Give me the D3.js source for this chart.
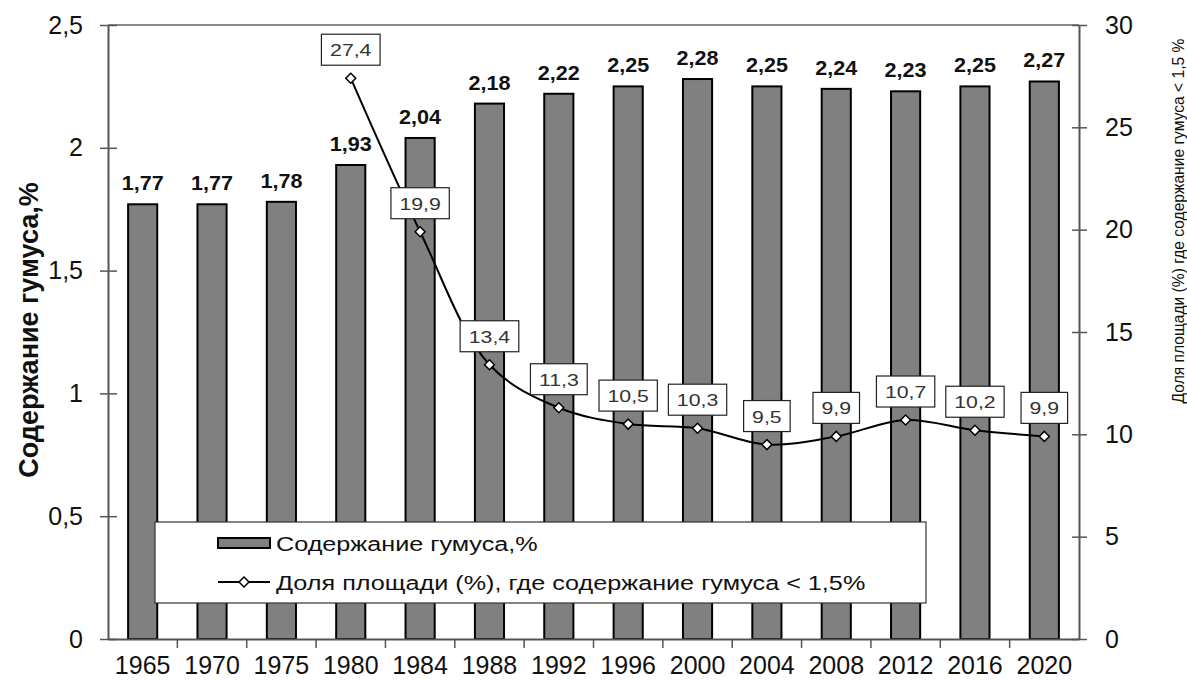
<!DOCTYPE html>
<html>
<head>
<meta charset="utf-8">
<script src="https://cdn.jsdelivr.net/npm/d3@7"></script>
<style>
  body { margin: 0; background: #fff; }
  text { font-family: "Liberation Sans", Arial, sans-serif; }
</style>
</head>
<body>
<div id="chart"></div>
<script>
var width = 1187;
var height = 680;

// data
var years = ["1965","1970","1975","1980","1984","1988","1992","1996","2000","2004","2008","2012","2016","2020"];
var humus = [1.77,1.77,1.78,1.93,2.04,2.18,2.22,2.25,2.28,2.25,2.24,2.23,2.25,2.27];
var shareYears = ["1980","1984","1988","1992","1996","2000","2004","2008","2012","2016","2020"];
var share = [27.4,19.9,13.4,11.3,10.5,10.3,9.5,9.9,10.7,10.2,9.9];
var leftTicks = [0,0.5,1,1.5,2,2.5];
var rightTicks = [0,5,10,15,20,25,30];

var mLeft = 108, mRight = 1079, mTop = 25, mBottom = 639;
var fmt = function(v){ return String(v).replace(".", ","); };

var svg = d3.select("#chart").append("svg")
  .attr("width", width)
  .attr("height", height);

var x = d3.scaleBand().domain(years).range([mLeft, mRight]).paddingInner(0.58).paddingOuter(0.29);
var xb = d3.scaleBand().domain(years).range([mLeft, mRight]);
var y = d3.scaleLinear().domain([0, 2.5]).range([mBottom, mTop]);
var y2 = d3.scaleLinear().domain([0, 30]).range([mBottom, mTop]);

// top border
svg.append("line")
  .attr("x1", mLeft).attr("x2", mRight)
  .attr("y1", mTop).attr("y2", mTop)
  .attr("stroke", "#8a8a8a").attr("stroke-width", 2);

// bars
svg.selectAll(".bar")
  .data(humus)
  .enter().append("rect")
    .attr("x", function(d,i){ return x(years[i]); })
    .attr("y", function(d){ return y(d); })
    .attr("width", x.bandwidth())
    .attr("height", function(d){ return y(0) - y(d); })
    .attr("fill", "#808080")
    .attr("stroke", "#000")
    .attr("stroke-width", 2);

svg.selectAll(".barlab")
  .data(humus)
  .enter().append("text")
    .attr("transform", function(d,i){ return "translate(" + (x(years[i]) + x.bandwidth()/2) + "," + (y(d) - 14) + ") scale(1.08,1)"; })
    .attr("text-anchor", "middle")
    .style("font-size", "20px")
    .style("font-weight", "bold")
    .attr("fill", "#111")
    .text(function(d){ return fmt(d); });

// axes
var yAxis = d3.axisLeft(y).tickValues(leftTicks).tickFormat(fmt).tickSize(0);
var gy = svg.append("g").attr("transform", "translate(" + mLeft + ",0)").call(yAxis);
gy.select(".domain").attr("stroke", "#555").attr("stroke-width", 2);
gy.selectAll(".tick text").attr("x", -25).style("font-size", "25px").attr("fill", "#111");
gy.selectAll(".tick").append("line")
  .attr("x1", -8).attr("x2", 9).attr("stroke", "#555").attr("stroke-width", 1.5);

var y2Axis = d3.axisRight(y2).tickValues(rightTicks).tickSize(0);
var gy2 = svg.append("g").attr("transform", "translate(" + mRight + ",0)").call(y2Axis);
gy2.select(".domain").attr("stroke", "#555").attr("stroke-width", 2);
gy2.selectAll(".tick text").attr("x", 26).style("font-size", "25px").attr("fill", "#111");
gy2.selectAll(".tick").append("line")
  .attr("x1", -7).attr("x2", 8).attr("stroke", "#555").attr("stroke-width", 1.5);

var xAxis = d3.axisBottom(xb).tickSize(0);
var gx = svg.append("g").attr("transform", "translate(0," + mBottom + ")").call(xAxis);
gx.select(".domain").attr("stroke", "#555").attr("stroke-width", 2);
gx.selectAll(".tick text").attr("y", 35).attr("dy", null).style("font-size", "25px").attr("fill", "#111");
// tick marks at band boundaries
gx.selectAll(".sep")
  .data(years.slice(1))
  .enter().append("line")
    .attr("x1", function(d){ return xb(d); })
    .attr("x2", function(d){ return xb(d); })
    .attr("y1", 0).attr("y2", 9)
    .attr("stroke", "#555").attr("stroke-width", 1.5);

// axis titles
svg.append("text")
  .attr("transform", "translate(38,330) rotate(-90)")
  .attr("text-anchor", "middle")
  .style("font-size", "27px")
  .style("font-weight", "bold")
  .attr("fill", "#111")
  .text("Содержание гумуса,%");

svg.append("text")
  .attr("transform", "translate(1184,221) rotate(-90)")
  .attr("text-anchor", "middle")
  .style("font-size", "15.6px")
  .attr("fill", "#111")
  .text("Доля площади (%) где содержание гумуса < 1,5 %");

// line
var cx = function(i){ return xb(shareYears[i]) + xb.bandwidth()/2; };
var line = d3.line()
  .x(function(d,i){ return cx(i); })
  .y(function(d){ return y2(d); })
  .curve(d3.curveCatmullRom.alpha(0.5));

svg.append("path")
  .datum(share)
  .attr("d", line)
  .attr("fill", "none")
  .attr("stroke", "#000")
  .attr("stroke-width", 2);

var diamond = d3.symbol().type(d3.symbolSquare).size(50);
svg.selectAll(".pt")
  .data(share)
  .enter().append("path")
    .attr("d", diamond)
    .attr("transform", function(d,i){ return "translate(" + cx(i) + "," + y2(d) + ") rotate(45)"; })
    .attr("fill", "#fff")
    .attr("stroke", "#000")
    .attr("stroke-width", 1.5);

// value boxes
var sx = 1.25;
var lab = svg.selectAll(".lab")
  .data(share)
  .enter().append("g")
    .attr("transform", function(d,i){ return "translate(" + cx(i) + "," + (y2(d) - 13) + ")"; });
lab.append("text")
  .attr("text-anchor", "middle")
  .attr("transform", "translate(0,-9) scale(" + sx + ",1)")
  .style("font-size", "17px")
  .attr("fill", "#333")
  .text(function(d){ return fmt(d); });
lab.each(function(){
  var g = d3.select(this);
  var bb = g.select("text").node().getBBox();
  var w = bb.width * sx + 17;
  g.insert("rect", "text")
    .attr("x", -w/2).attr("y", -31)
    .attr("width", w).attr("height", 31)
    .attr("fill", "#fff").attr("stroke", "#222").attr("stroke-width", 1.2);
});

// legend
var lg = svg.append("g");
lg.append("rect")
  .attr("x", 155).attr("y", 522).attr("width", 771).attr("height", 81)
  .attr("fill", "#fff").attr("stroke", "#333").attr("stroke-width", 1.2);
lg.append("rect")
  .attr("x", 218).attr("y", 538).attr("width", 52).attr("height", 10)
  .attr("fill", "#808080").attr("stroke", "#000").attr("stroke-width", 2);
lg.append("text")
  .attr("transform", "translate(276,551) scale(1.2,1)")
  .style("font-size", "21px").attr("fill", "#111")
  .text("Содержание гумуса,%");
lg.append("line")
  .attr("x1", 218).attr("x2", 270).attr("y1", 582).attr("y2", 582)
  .attr("stroke", "#000").attr("stroke-width", 2);
lg.append("path")
  .attr("d", diamond)
  .attr("transform", "translate(244,582) rotate(45)")
  .attr("fill", "#fff").attr("stroke", "#000").attr("stroke-width", 1.5);
lg.append("text")
  .attr("transform", "translate(276,590) scale(1.2,1)")
  .style("font-size", "21px").attr("fill", "#111")
  .text("Доля площади (%), где содержание гумуса < 1,5%");
</script>
</body>
</html>
